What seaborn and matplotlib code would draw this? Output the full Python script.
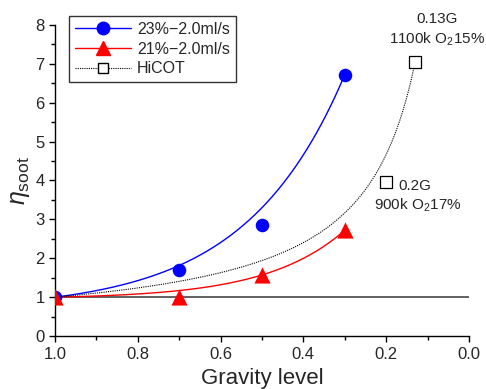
import numpy as np
import pandas as pd
import seaborn as sns
import matplotlib.pyplot as plt
from matplotlib.lines import Line2D

# data
gravity_23 = [1.0, 0.7, 0.5, 0.3]
eta_23 = [1.0, 1.7, 2.85, 6.72]
gravity_21 = [1.0, 0.7, 0.5, 0.3]
eta_21 = [1.0, 1.0, 1.56, 2.72]
gravity_hicot = [1.0, 0.2, 0.13]
eta_hicot = [1.0, 3.95, 7.05]

t_23 = 0.24
t_21 = 0.19

sns.set_style("ticks")
plt.rcParams['font.family'] = ['Liberation Sans', 'DejaVu Sans']
plt.rcParams['mathtext.fontset'] = 'custom'
plt.rcParams['mathtext.rm'] = 'Liberation Sans'
plt.rcParams['mathtext.it'] = 'Liberation Sans:italic'
plt.rcParams['xtick.direction'] = 'out'
plt.rcParams['ytick.direction'] = 'out'


def exp_fit(xs, ys, t):
    # pass through first and last point
    x0, x1, y0, y1 = xs[0], xs[-1], ys[0], ys[-1]
    A = (y1 - y0) / (np.exp(-x1 / t) - np.exp(-x0 / t))
    c = y0 - A * np.exp(-x0 / t)
    xx = np.linspace(x0, x1, 200)
    return xx, c + A * np.exp(-xx / t)


def pow_fit(xs, ys):
    b = np.log(ys[-1] / ys[0]) / np.log(xs[-1] / xs[0])
    xx = np.linspace(xs[0], xs[-1], 200)
    return xx, ys[0] * (xx / xs[0]) ** b


fig = plt.figure(figsize=(4.86, 3.89), dpi=100)
ax = fig.add_axes([0.113, 0.136, 0.852, 0.8])

# reference line at 1
sns.lineplot(x=[1.0, 0.0], y=[1.0, 1.0], color='#555555', lw=1.3, ax=ax)

xx, yy = exp_fit(gravity_23, eta_23, t_23)
sns.lineplot(x=xx, y=yy, color='blue', lw=1.0, sort=False, ax=ax)
xx, yy = exp_fit(gravity_21, eta_21, t_21)
sns.lineplot(x=xx, y=yy, color='red', lw=1.0, sort=False, ax=ax)
xx, yy = pow_fit(gravity_hicot, eta_hicot)
ax.plot(xx, yy, color='black', lw=0.8, ls=(0, (1, 1)))

sns.scatterplot(x=gravity_23, y=eta_23, color='blue', marker='o', s=95,
                edgecolor='blue', linewidth=0, zorder=5, ax=ax)
sns.scatterplot(x=gravity_21, y=eta_21, color='red', marker='^', s=135,
                edgecolor='red', linewidth=0, zorder=5, ax=ax)
sns.scatterplot(x=gravity_hicot[1:], y=eta_hicot[1:], marker='s', s=65,
                facecolor='white', edgecolor='black', linewidth=0.9, zorder=5, ax=ax)

ax.set_xlim(1.0, 0.0)
ax.set_ylim(0, 8)
ax.set_xticks([1.0, 0.8, 0.6, 0.4, 0.2, 0.0])
ax.set_xticks(np.arange(0.1, 1.0, 0.2), minor=True)
ax.set_yticks(range(0, 9))
ax.set_yticks(np.arange(0.5, 8, 1.0), minor=True)
ax.tick_params(which='major', length=4, width=1, labelsize=12, color='black')
ax.tick_params(which='minor', length=3, width=1, color='black')
for s in ['left', 'bottom']:
    ax.spines[s].set_color('black')
    ax.spines[s].set_linewidth(1.0)
sns.despine(ax=ax)

ax.set_xlabel('Gravity level', fontsize=16, labelpad=5)
ax.set_ylabel(r'$\eta_{\rm soot}$', fontsize=18, labelpad=2)

ax.text(0.078, 8.15, '0.13G', ha='center', va='center', fontsize=11)
ax.text(0.078, 7.62, '1100k O$_2$15%', ha='center', va='center', fontsize=11)
ax.text(0.17, 3.87, '0.2G', ha='left', va='center', fontsize=11)
ax.text(0.124, 3.36, '900k O$_2$17%', ha='center', va='center', fontsize=11)

handles = [
    Line2D([], [], color='blue', lw=1, marker='o', ms=9, label='23%−2.0ml/s'),
    Line2D([], [], color='red', lw=1, marker='^', ms=10, label='21%−2.0ml/s'),
    Line2D([], [], color='black', lw=0.8, ls=(0, (1, 1)), marker='s', ms=7,
           mfc='white', mec='black', label='HiCOT'),
]
leg = ax.legend(handles=handles, loc='upper left', bbox_to_anchor=(69 / 486, 1 - 16 / 389),
                bbox_transform=fig.transFigure, fontsize=11.5, frameon=True, fancybox=False,
                handlelength=3.5, borderpad=0.36, labelspacing=0.3, handletextpad=0.4,
                borderaxespad=0)
leg.get_frame().set_edgecolor('black')
leg.get_frame().set_linewidth(1.0)

fig.savefig('out.png', dpi=100)
